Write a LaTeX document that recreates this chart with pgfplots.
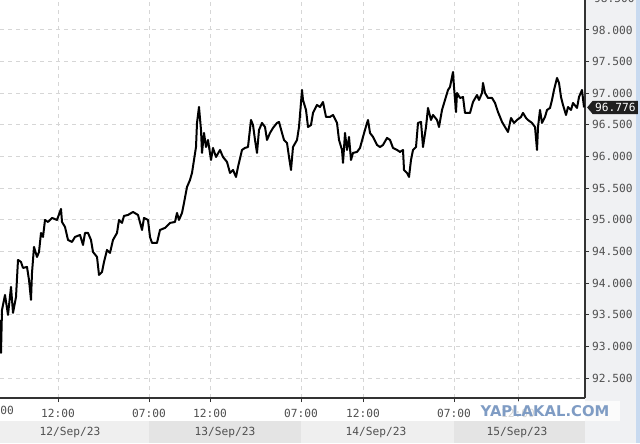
\documentclass[border=0pt]{standalone}
\usepackage{pgfplots}
\pgfplotsset{compat=1.18}
\usepackage{fontspec}
\setmainfont{DejaVu Sans Mono}
\newfontfamily\wmfont{DejaVu Sans}
\usetikzlibrary{shapes.symbols}
\definecolor{lbl}{HTML}{505050}
\definecolor{axc}{HTML}{333333}
\definecolor{gridc}{HTML}{D6D6D6}
\definecolor{panel}{HTML}{F0F1F3}
\definecolor{bandA}{HTML}{EFEFEF}
\definecolor{bandB}{HTML}{E4E4E4}
\definecolor{strip}{HTML}{C8DAF0}
\definecolor{wm}{HTML}{7F9CC4}
\begin{document}
\begin{tikzpicture}[x=0.5pt,y=0.5pt]
\fill[white] (0,0) rectangle (640,443);
\fill[panel] (585,0) rectangle (640,443);
\fill[strip] (636,0) rectangle (640,443);
\fill[bandA] (0,0) rectangle (149,22);
\fill[bandB] (149,0) rectangle (301,22);
\fill[bandA] (301,0) rectangle (454,22);
\fill[bandB] (454,0) rectangle (585,22);
\begin{axis}[
  at={(0pt,221.5pt)}, anchor=north west,
  scale only axis, width=292.5pt, height=199pt,
  xmin=0, xmax=585, ymin=92.184, ymax=98.474,
  axis x line*=bottom, axis y line*=right,
  axis line style={axc, line width=0.6pt},
  clip=false,
  xtick={58,149,210,301,363,454,518},
  xticklabels={12:00,07:00,12:00,07:00,12:00,07:00,12:00},
  ytick={92.5,93,93.5,94,94.5,95,95.5,96,96.5,97,97.5,98},
  yticklabel pos=right,
  tick align=outside, major tick length=2pt,
  tick style={axc, line width=0.5pt},
  grid=major,
  major grid style={gridc, line width=0.5pt, dash pattern=on 2pt off 2pt},
  ticklabel style={font=\fontsize{5.6}{6}\selectfont, text=lbl},
  /pgf/number format/assume math mode=true,
  yticklabel style={xshift=-2pt, /pgf/number format/.cd, fixed, fixed zerofill, precision=3, 1000 sep={}},
]
\addplot[black, line width=1pt, line join=round] coordinates {
(0,93.418) (1,92.897) (2,93.576) (5,93.813) (8,93.497) (11,93.940) (13,93.529) (16,93.781)
(18,94.366) (21,94.334) (23,94.240) (27,94.255) (29,94.050) (31,93.734) (32,94.161) (34,94.572)
(37,94.413) (39,94.492) (41,94.793) (43,94.729) (45,94.998) (48,94.966) (52,95.030) (57,94.998)
(61,95.172) (62,94.966) (65,94.887) (68,94.682) (72,94.650) (75,94.729) (80,94.761) (83,94.603)
(85,94.793) (88,94.793) (91,94.682) (93,94.492) (97,94.413) (99,94.129) (102,94.176) (104,94.334)
(107,94.524) (110,94.477) (113,94.682) (117,94.793) (119,94.998) (122,94.951) (124,95.061) (128,95.077)
(133,95.124) (138,95.077) (142,94.840) (144,95.030) (148,94.998) (150,94.729) (152,94.635) (157,94.635)
(160,94.840) (165,94.872) (170,94.951) (175,94.966) (177,95.109) (179,94.998) (182,95.109) (184,95.267)
(187,95.519) (190,95.630) (192,95.741) (194,95.946) (196,96.151) (197,96.531) (199,96.783) (201,96.420)
(202,96.057) (204,96.373) (206,96.151) (208,96.262) (211,95.946) (213,96.136) (216,95.993) (220,96.104)
(223,95.993) (227,95.914) (230,95.741) (233,95.788) (236,95.677) (238,95.836) (242,96.104) (245,96.136)
(248,96.151) (251,96.578) (253,96.499) (255,96.262) (257,96.057) (259,96.420) (262,96.531) (265,96.467)
(267,96.262) (270,96.373) (273,96.452) (277,96.531) (279,96.547) (282,96.373) (284,96.262) (287,96.215)
(289,95.993) (291,95.788) (293,96.151) (297,96.262) (299,96.467) (302,97.052) (303,96.894) (306,96.736)
(308,96.467) (311,96.499) (313,96.689) (317,96.815) (320,96.783) (323,96.862) (326,96.626) (330,96.626)
(333,96.657) (337,96.531) (339,96.262) (342,96.104) (343,95.899) (345,96.373) (347,96.104) (349,96.310)
(351,95.946) (353,96.057) (357,96.073) (360,96.136) (363,96.310) (367,96.531) (368,96.578) (370,96.373)
(373,96.310) (377,96.183) (380,96.151) (383,96.183) (387,96.294) (390,96.262) (393,96.136) (397,96.104)
(400,96.073) (403,96.104) (404,95.788) (407,95.741) (409,95.677) (411,95.946) (413,96.104) (416,96.151)
(418,96.531) (421,96.547) (423,96.151) (426,96.467) (428,96.768) (431,96.578) (433,96.657) (437,96.578)
(439,96.467) (442,96.736) (445,96.894) (448,97.052) (450,97.099) (453,97.336) (454,97.099) (456,96.704)
(457,97.005) (460,96.926) (463,96.941) (465,96.689) (470,96.689) (473,96.862) (477,96.973) (479,96.894)
(482,97.005) (483,97.163) (485,97.005) (488,96.926) (492,96.926) (495,96.847) (498,96.704) (502,96.547)
(505,96.467) (508,96.388) (511,96.610) (514,96.531) (517,96.578) (521,96.626) (523,96.689) (526,96.610)
(528,96.578) (532,96.531) (535,96.467) (537,96.104) (538,96.467) (540,96.736) (542,96.531) (545,96.626)
(547,96.736) (550,96.768) (552,96.894) (554,97.052) (557,97.242) (559,97.163) (561,96.941) (563,96.815)
(566,96.657) (568,96.783) (571,96.736) (573,96.847) (577,96.768) (579,96.941) (582,97.052) (584,96.776)
};
\node[signal, signal to=west, signal pointer angle=100, fill=black!88, text=white, inner xsep=1.2pt, inner ysep=1.2pt,
  anchor=west, font=\fontsize{5.6}{6}\selectfont, xshift=0.8pt] at (axis cs:585,96.776) {96.776};
\end{axis}
\node[anchor=west, font=\fontsize{5.6}{6}\selectfont, text=lbl] at (587,444.6) {98.500};
\draw[axc, line width=0.5pt] (585,444.6) -- (589,444.6);
\node[font=\fontsize{5.6}{6}\selectfont, text=lbl] at (-3,33) {07:00};
\node[font=\fontsize{5.6}{6}\selectfont, text=lbl] at (70,10) {12/Sep/23};
\node[font=\fontsize{5.6}{6}\selectfont, text=lbl] at (225,10) {13/Sep/23};
\node[font=\fontsize{5.6}{6}\selectfont, text=lbl] at (376,10) {14/Sep/23};
\node[font=\fontsize{5.6}{6}\selectfont, text=lbl] at (517,10) {15/Sep/23};
\fill[white, opacity=0.75] (470,22) rectangle (620,42);
\node[font=\wmfont\bfseries\fontsize{7.4}{8}\selectfont, text=wm] at (545,32) {YAPLAKAL.COM};
\pgfresetboundingbox
\path[use as bounding box] (0,0) rectangle (640,443);
\end{tikzpicture}
\end{document}
